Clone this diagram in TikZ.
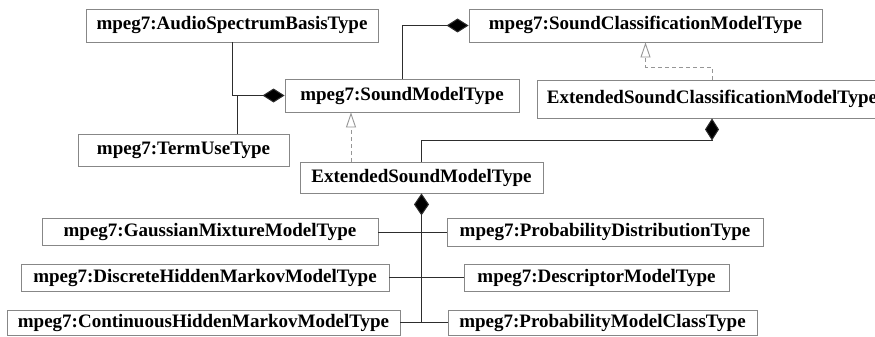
\documentclass[tikz,border=0pt]{standalone}
\usepackage{fontspec}
\setmainfont{Liberation Serif}
\usetikzlibrary{arrows.meta}
\definecolor{boxgray}{RGB}{135,135,135}
\definecolor{linegray}{RGB}{45,45,45}
\definecolor{dashgray}{RGB}{150,150,150}
\begin{document}
\begin{tikzpicture}[x=1pt,y=-1pt,
  cls/.style={draw=boxgray, line width=0.9pt, inner sep=0pt, anchor=center,
    font=\fontsize{19}{19}\selectfont\bfseries, text=black,
    text height=13pt, text depth=4pt},
  assoc/.style={draw=linegray, line width=1pt},
  comp/.style={assoc, -{Diamond[length=22pt,width=14pt,fill=black]}},
  compS/.style={assoc, {Diamond[length=22pt,width=15pt,fill=black]}-},
  gen/.style={draw=dashgray, line width=0.9pt, dash pattern=on 4pt off 3pt,
    -{Triangle[open,length=15pt,width=10pt,fill=white]}}]
\useasboundingbox (0,0) rectangle (875,337);
\clip (0,0) rectangle (875,337);
\fill[white] (0,0) rectangle (875,337);

\node[cls, minimum width=292pt, minimum height=33pt] (asb) at (232,25.5) {mpeg7:AudioSpectrumBasisType};
\node[cls, minimum width=353pt, minimum height=33pt] (scm) at (645.5,25.5) {mpeg7:SoundClassificationModelType};
\node[cls, minimum width=234pt, minimum height=33pt] (sm) at (402,95.5) {mpeg7:SoundModelType};
\node[cls, minimum width=211pt, minimum height=32pt] (tu) at (183.5,150) {mpeg7:TermUseType};
\node[cls, minimum width=350pt, minimum height=38pt] (escm) at (712,99) {ExtendedSoundClassificationModelType};
\node[cls, minimum width=243pt, minimum height=31pt] (esm) at (421.5,177.5) {ExtendedSoundModelType};
\node[cls, minimum width=336pt, minimum height=27pt] (gmm) at (210,232) {mpeg7:GaussianMixtureModelType};
\node[cls, minimum width=316pt, minimum height=28pt] (pd) at (605,232) {mpeg7:ProbabilityDistributionType};
\node[cls, minimum width=368pt, minimum height=27pt] (dhmm) at (205,277.5) {mpeg7:DiscreteHiddenMarkovModelType};
\node[cls, minimum width=265pt, minimum height=27pt] (dm) at (596.5,277.5) {mpeg7:DescriptorModelType};
\node[cls, minimum width=393pt, minimum height=25pt] (chmm) at (203.5,322.5) {mpeg7:ContinuousHiddenMarkovModelType};
\node[cls, minimum width=309pt, minimum height=25pt] (pmc) at (602.5,322.5) {mpeg7:ProbabilityModelClassType};

\coordinate (tuj) at (237,95.5);
\coordinate (g1) at (351,0);
\coordinate (g2) at (0,67);
\coordinate (c1) at (712,140);
\coordinate (v1) at (421.5,322.5);

% compositions
\draw[comp] (asb.south) |- (sm.west);
\draw[assoc] (tu.north -| tuj) -- (tuj);
\draw[comp] (sm.north) |- (scm.west);
\draw[assoc, -{Diamond[length=22pt,width=14pt,fill=black]}] (esm.north) |- (c1) -- (escm.south);
\draw[compS] (esm.south) -- (v1);
\draw[assoc] (gmm.east) -- (pd.west);
\draw[assoc] (dhmm.east) -- (dm.west);
\draw[assoc] (chmm.east) -- (pmc.west);

% generalizations
\draw[gen] (esm.north -| g1) -- (sm.south -| g1);
\draw[gen] (escm.north) -- (escm.north |- g2) -| (scm.south);
\end{tikzpicture}
\end{document}
